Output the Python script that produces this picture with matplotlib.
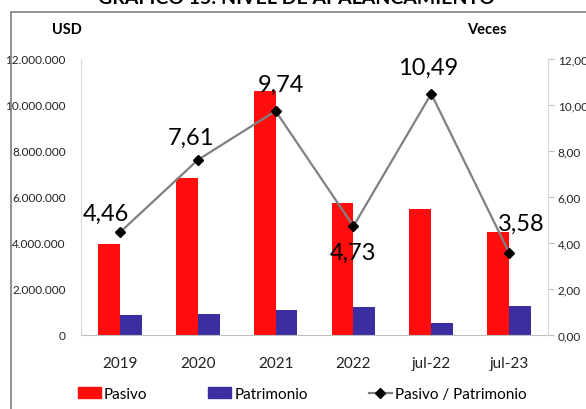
import numpy as np
import matplotlib.pyplot as plt
from matplotlib.patches import Rectangle
from matplotlib.lines import Line2D
from matplotlib.ticker import FuncFormatter

plt.rcParams['font.family'] = ['Lato', 'DejaVu Sans']

periodos = ["2019", "2020", "2021", "2022", "jul-22", "jul-23"]
pasivo = [3960000, 6830000, 10620000, 5740000, 5480000, 4460000]
patrimonio = [870000, 910000, 1100000, 1220000, 520000, 1260000]
ratio = [4.46, 7.61, 9.74, 4.73, 10.49, 3.58]
ratio_txt = ["4,46", "7,61", "9,74", "4,73", "10,49", "3,58"]
# label offsets in points (dx, dy)
lbl_off = [(-10, 14), (-5, 16), (4, 19), (0, -19), (-2, 19), (9, 21)]

RED = "#FF0D0D"
BLUE = "#3A2EA0"
GRAY = "#808080"

fig = plt.figure(figsize=(5.86, 4.1), dpi=100)
ax = fig.add_axes([81/586, 74/410, 467/586, 276/410])
x = np.arange(len(periodos))
w = 0.28
ax.bar(x - w/2, pasivo, w, color=RED, label="Pasivo")
ax.bar(x + w/2, patrimonio, w, color=BLUE, label="Patrimonio")
ax.set_xlim(-0.5, len(periodos) - 0.5)
ax.set_ylim(0, 12000000)
ax.set_yticks(np.arange(0, 12000001, 2000000))
ax.yaxis.set_major_formatter(FuncFormatter(lambda v, p: f"{int(v):,}".replace(",", ".")))
ax.set_xticks(x)
ax.set_xticklabels(periodos, fontsize=11, color="#222222")
ax.tick_params(axis="x", length=0, pad=15)
ax.tick_params(axis="y", length=0, labelsize=8.5, colors="#222222", pad=11)
for s in ["top", "right"]:
    ax.spines[s].set_visible(False)
ax.spines["left"].set_color("#D9D9D9")
ax.spines["bottom"].set_color("#BFBFBF")

ax2 = ax.twinx()
ax2.plot(x, ratio, color=GRAY, lw=1.6, marker="D", ms=5.5, mfc="black", mec="black",
         label="Pasivo / Patrimonio")
ax2.set_ylim(0, 12)
ax2.set_yticks(np.arange(0, 12.01, 2))
ax2.yaxis.set_major_formatter(FuncFormatter(lambda v, p: f"{v:.2f}".replace(".", ",")))
ax2.tick_params(axis="y", length=4, color="#BFBFBF", labelsize=8.5, labelcolor="#222222", pad=3)
for s in ["top", "left", "bottom"]:
    ax2.spines[s].set_visible(False)
ax2.spines["right"].set_color("#D9D9D9")
for xi, yi, t, (dx, dy) in zip(x, ratio, ratio_txt, lbl_off):
    ax2.annotate(t, (xi, yi), xytext=(dx, dy), textcoords="offset points",
                 ha="center", va="center", fontsize=17, color="black")

# frame and titles
fig.patches.append(Rectangle((11/586, -0.3), 1.0, 1 - 13/410 + 0.3, transform=fig.transFigure,
                             fill=False, edgecolor="#7F7F7F", lw=1.2))
fig.text(296/586, 1 - 4/410, "GRAFICO 15: NIVEL DE APALANCAMIENTO", ha="center",
         va="baseline", fontsize=14, fontweight="bold")
fig.text(67/586, 1 - 30/410, "USD", ha="center", va="center", fontsize=10.5, fontweight="bold")
fig.text(487/586, 1 - 30/410, "Veces", ha="center", va="center", fontsize=10.5, fontweight="bold")

handles = [Rectangle((0, 0), 1, 1, color=RED), Rectangle((0, 0), 1, 1, color=BLUE),
           Line2D([], [], color=GRAY, lw=1.6, marker="D", ms=5, mfc="black", mec="black")]
fig.legend(handles, ["Pasivo", "Patrimonio", "Pasivo / Patrimonio"], loc="center",
           bbox_to_anchor=(302/586, 1 - 395/410), ncol=3, frameon=False, fontsize=11,
           handlelength=1.5, handletextpad=0.2, columnspacing=4.0)

fig.savefig("out.png", dpi=100)
